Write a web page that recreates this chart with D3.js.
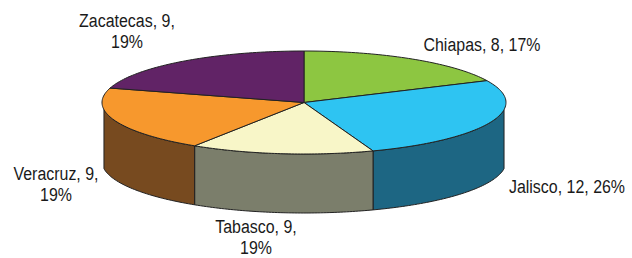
<!DOCTYPE html>
<html><head><meta charset="utf-8">
<script src="https://cdn.jsdelivr.net/npm/d3@7"></script>
<style>html,body{margin:0;padding:0;background:#fff;}svg{display:block;}</style>
</head><body>
<svg id="chart" width="632" height="258"></svg>
<script>
const categories = ["Chiapas", "Jalisco", "Tabasco", "Veracruz", "Zacatecas"];
const values = [8, 12, 9, 9, 9];
const percentLabels = ["17%", "26%", "19%", "19%", "19%"];
const topColors = ["#8dc641", "#2ec4f2", "#f8f6c8", "#f7982d", "#612366"];
const sideColors = ["#5d8a2a", "#1d6683", "#7b7e6b", "#774a1f", "#3f1742"];
const labelLines = [
  [categories[0] + ", " + values[0] + ", " + percentLabels[0]],
  [categories[1] + ", " + values[1] + ", " + percentLabels[1]],
  [categories[2] + ", " + values[2] + ",", percentLabels[2]],
  [categories[3] + ", " + values[3] + ",", percentLabels[3]],
  [categories[4] + ", " + values[4] + ",", percentLabels[4]]
];
const labelPos = [[482, 51], [567, 193], [256, 233], [56, 180], [127, 27]];

const svg = d3.select("#chart");
const cx = 304, cy = 102.5, rx = 202, ry = 51.5, depth = 59;
const pie = d3.pie().sort(null).value(d => d)(values);

// slight perspective-like warp of the projected angle
const K = 8 * Math.PI / 180;
function warp(a) { return a + K * Math.sin(a) * (1 - Math.cos(a)); }
function pt(a, dy) { const w = warp(a); return [cx + rx * Math.sin(w), cy - ry * Math.cos(w) + (dy || 0)]; }
function arcPts(a0, a1, dy) {
  const n = Math.max(2, Math.ceil(Math.abs(a1 - a0) / 0.02));
  const out = [];
  for (let i = 0; i <= n; i++) out.push(pt(a0 + (a1 - a0) * i / n, dy));
  return out;
}
const line = d3.line();

// side walls (front half: angles between PI/2 and 3PI/2)
const sides = svg.append("g");
pie.forEach((d, i) => {
  const s = Math.max(d.startAngle, Math.PI / 2), e = Math.min(d.endAngle, 3 * Math.PI / 2);
  if (e <= s) return;
  const topArc = arcPts(s, e, 0);
  const botArc = arcPts(e, s, depth);
  sides.append("path").attr("d", line(topArc.concat(botArc)) + "Z")
    .attr("fill", sideColors[i]).attr("stroke", "#222").attr("stroke-width", 1)
    .attr("stroke-linejoin", "round");
});

// tops
const tops = svg.append("g");
pie.forEach((d, i) => {
  const pts = [[cx, cy]].concat(arcPts(d.startAngle, d.endAngle, 0));
  tops.append("path").attr("d", line(pts) + "Z")
    .attr("fill", topColors[i]).attr("stroke", "#222").attr("stroke-width", 1)
    .attr("stroke-linejoin", "round");
});

// labels (slightly condensed)
const sx = 0.84;
const lg = svg.append("g").attr("transform", `scale(${sx},1)`)
  .attr("font-family", "Liberation Sans, Arial, sans-serif")
  .attr("font-size", 19).attr("fill", "#1a1a1a").attr("text-anchor", "middle");
labelLines.forEach((lines, i) => {
  const t = lg.append("text").attr("x", labelPos[i][0] / sx).attr("y", labelPos[i][1]);
  lines.forEach((l, j) => {
    t.append("tspan").attr("x", labelPos[i][0] / sx).attr("dy", j === 0 ? 0 : 21.5).text(l);
  });
});
</script>
</body></html>
